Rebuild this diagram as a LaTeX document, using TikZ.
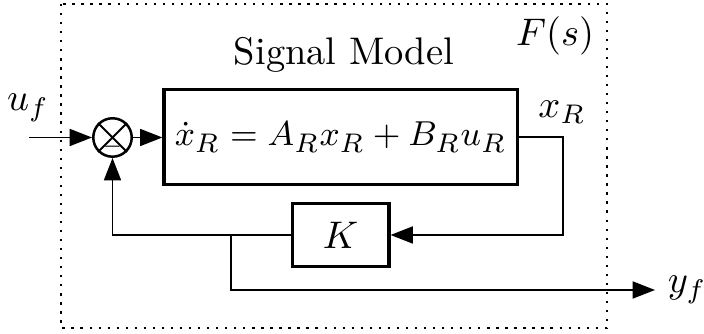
\documentclass[tikz,border=0pt]{standalone}
\usetikzlibrary{arrows.meta}
\begin{document}
\begin{tikzpicture}[x=0.26pt,y=-0.26pt,
  blk/.style={draw,line width=0.8pt,inner sep=0pt},
  conn/.style={line width=0.5pt},
  arr/.style={conn,-{Triangle[length=5.8pt,width=4.4pt]}},
  lbl/.style={inner sep=0pt}]
\useasboundingbox (0,0) rectangle (704,334);
\draw[line width=0.6pt,dash pattern=on 0.6pt off 1.75pt] (61,4) rectangle (607,328);
\node[lbl] (F) at (555,36) {$F(s)$};
\node[lbl,anchor=base] (title) at (344,65) {Signal Model};
\node[blk,minimum width=91.8pt,minimum height=24.7pt,font=\fontsize{9.4}{11}\selectfont] (sys) at (340.5,137) {$\dot{x}_R = A_R x_R + B_R u_R$};
\node[blk,minimum width=25.2pt,minimum height=16.6pt] (K) at (340.5,235) {$K$};
\node[draw,circle,line width=0.65pt,minimum size=10pt,inner sep=0pt] (sum) at (112.5,137.5) {};
\draw[line width=0.5pt] (sum.north west) -- (sum.south east) (sum.north east) -- (sum.south west);
\node[lbl,font=\fontsize{4.5}{5}\selectfont] (minus) at (112.5,146.5) {$-$};
\coordinate (uin) at (29,137.5);
\node[lbl] (uf) at (28,108) {$u_f$};
\node[lbl] (xR) at (562,112) {$x_R$};
\coordinate (c1) at (563,137);
\coordinate (c2) at (563,235);
\coordinate (c3) at (112.5,235);
\coordinate (br) at (231,235);
\coordinate (br2) at (231,290);
\coordinate (yout) at (655,290);
\node[lbl,anchor=west] (yf) at (667,290) {$y_f$};
\draw[arr] (uin) -- (sum.west);
\draw[arr] (sum.east) -- (sys.west |- sum.east);
\draw[arr] (sys.east |- c1) -- (c1) -- (c2) -- (K.east);
\draw[arr] (K.west) -- (c3) -- (sum.south);
\draw[arr] (br) -- (br2) -- (yout);
\end{tikzpicture}
\end{document}
